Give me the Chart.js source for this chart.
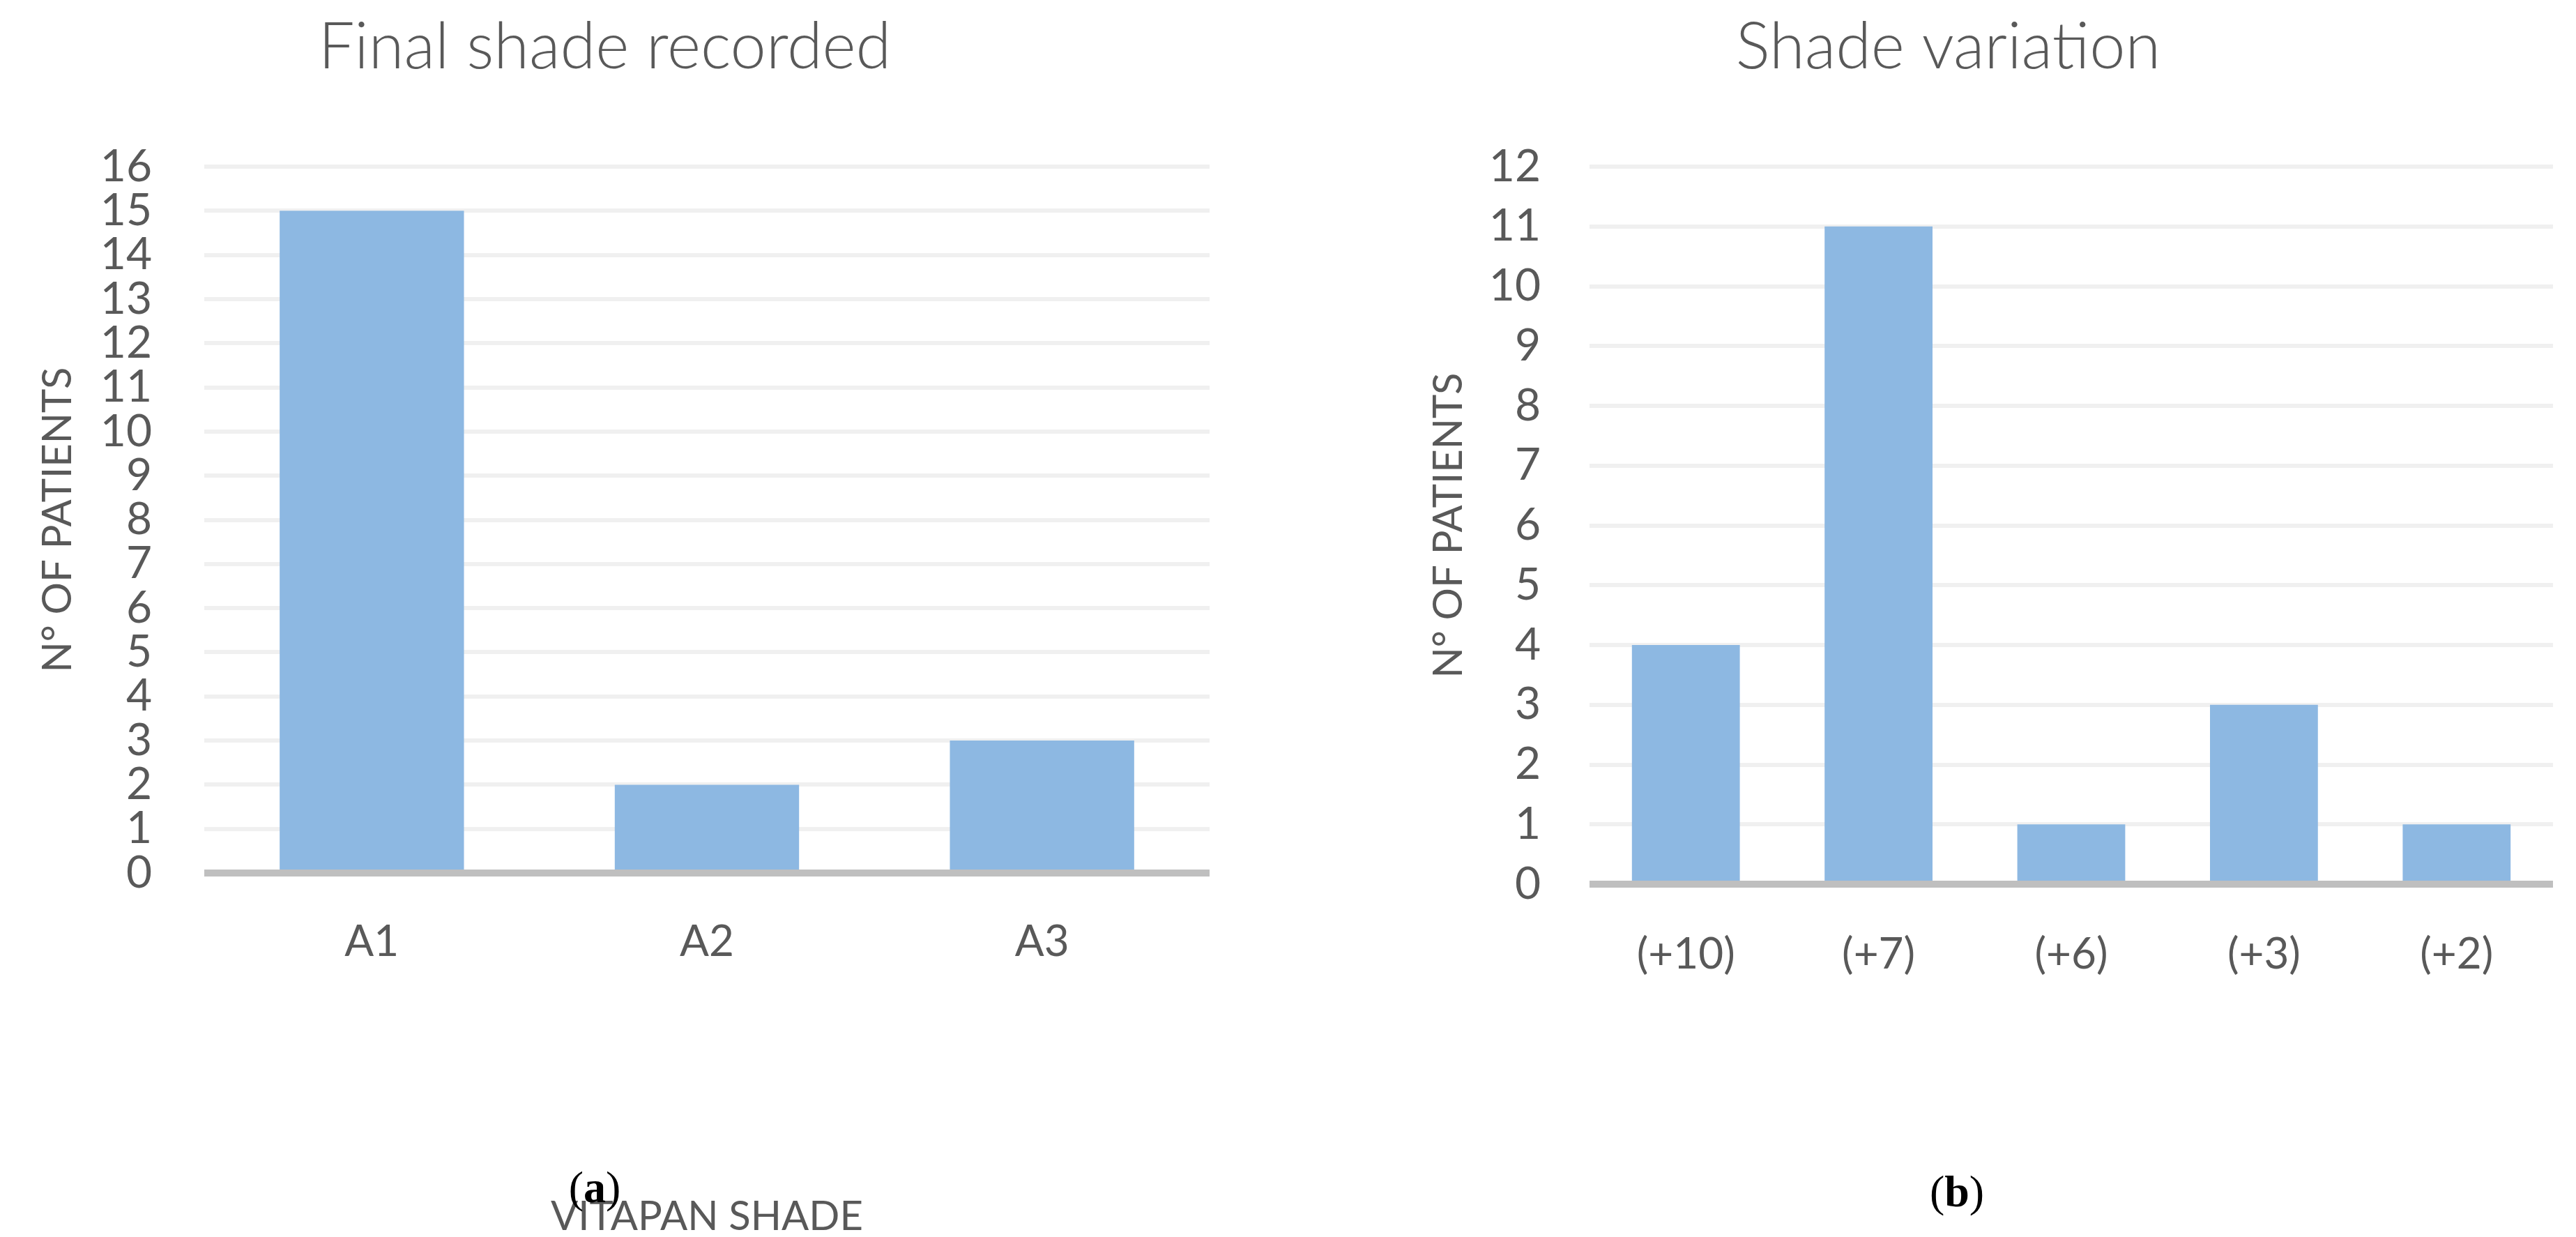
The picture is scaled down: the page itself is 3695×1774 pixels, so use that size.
<!DOCTYPE html>
<html><head><meta charset="utf-8">
<script src="https://cdn.jsdelivr.net/npm/chart.js@4/dist/chart.umd.min.js"></script>
<style>
html,body{margin:0;padding:0;background:#fff;width:3695px;height:1774px;overflow:hidden;}
.c{position:absolute;top:0;height:1774px;}
.lab{position:absolute;font-family:"Liberation Serif",serif;font-size:64px;color:#000;transform:translate(-50%,-50%);}
</style></head><body>
<div class="c" style="left:0;width:1900px"><canvas id="a"></canvas></div>
<div class="c" style="left:1927px;width:1768px"><canvas id="b"></canvas></div>
<div class="lab" style="left:853px;top:1703px">(<b>a</b>)</div>
<div class="lab" style="left:2807px;top:1709px">(<b>b</b>)</div>
<script>
const shadeCategories = ["A1","A2","A3"];
const shadeCounts = [15,2,3];
const variationCategories = ["(+10)","(+7)","(+6)","(+3)","(+2)"];
const variationCounts = [4,11,1,3,1];
const TXT = "#595959", BAR = "#8db8e2";

function make(id, labels, data, opt){
  new Chart(document.getElementById(id), {
    type:'bar',
    data:{labels, datasets:[{data, backgroundColor:BAR, borderWidth:0, barPercentage:opt.bp, categoryPercentage:1}]},
    options:{
      responsive:true, maintainAspectRatio:false, animation:false,
      layout:{padding:{left:0,right:opt.right,top:0,bottom:0}},
      plugins:{legend:{display:false}, tooltip:{enabled:false},
        title:{display:true, text:opt.title, color:TXT, font:{family:"Lato", size:92, weight:'300', lineHeight:1}, padding:{top:22,bottom:239-22-92}}},
      scales:{
        x:{grid:{display:false}, border:{display:false},
           ticks:{color:TXT, font:{family:"Lato", size:62, lineHeight:1}, padding:opt.xpad, maxRotation:0},
           title:{display:!!opt.xtitle, text:opt.xtitle||'', color:TXT, font:{family:"Lato", size:58, lineHeight:1}, padding:{top:opt.xtp||0,bottom:0}},
           afterFit:s=>{s.height=opt.xh;}},
        y:{min:0, max:opt.max, grid:{drawTicks:false, color:c=>c.tick.value===0?'#bfbfbf':'#f0f0f0', lineWidth:c=>c.tick.value===0?10:6},
           border:{display:false},
           ticks:{stepSize:1, autoSkip:false, color:TXT, font:{family:"Lato", size:64, lineHeight:1}, padding:opt.ypad},
           title:{display:true, text:"N° OF PATIENTS", color:TXT, font:{family:"Lato", size:58, lineHeight:1}, padding:{top:opt.ytp,bottom:0}},
           afterFit:s=>{s.width=opt.yw;}}
      }
    }
  });
}
make('a', shadeCategories, shadeCounts, {title:"Final shade recorded", bp:0.55, right:165, max:16, xpad:60, xh:522, xtitle:"VITAPAN SHADE", xtp:1774-1466-29, ypad:75, yw:293, ytp:54});
make('b', variationCategories, variationCounts, {title:"Shade variation", bp:0.56, right:33, max:12, xpad:62, xh:506, ypad:70, yw:353, ytp:122});
</script></body></html>
